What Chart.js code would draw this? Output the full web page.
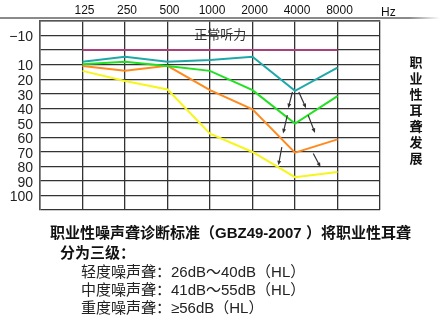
<!DOCTYPE html>
<html>
<head>
<meta charset="utf-8">
<script src="https://cdn.jsdelivr.net/npm/chart.js@4.4.0/dist/chart.umd.min.js"></script>
<style>
  html, body { margin: 0; padding: 0; background: #fff; }
  #wrap { position: relative; width: 440px; height: 334px; overflow: hidden; }
  #chart-box { position: absolute; left: 0; top: 0; width: 440px; height: 334px; }
  .txt { position: absolute; white-space: nowrap; font-family: "Liberation Sans", "Noto Sans CJK SC", sans-serif; color: #111; }
  #hz-line { position: absolute; left: 0; top: 17px; width: 440px; height: 1.5px;
             background: linear-gradient(to right, #8a8a8a 0%, #8a8a8a 93%, rgba(138,138,138,0) 100%); }
  #hz { left: 381px; top: 4px; font-size: 12px; line-height: 16px; }
  #side { left: 409px; top: 54px; width: 14px; font-size: 13px; line-height: 16px; font-weight: bold;
          white-space: normal; text-align: center; font-family: "Noto Sans CJK SC", sans-serif; color: #111; }
  .note { font-size: 15px; line-height: 18px; }
</style>
</head>
<body>
<div id="wrap">
  <div id="chart-box"><canvas id="audiogram"></canvas></div>
  <div id="hz-line"></div>
  <div class="txt" id="hz">Hz</div>
  <div class="txt" id="side">职<br>业<br>性<br>耳<br>聋<br>发<br>展</div>
  <div class="txt note" style="left:50px; top:224px; font-weight:bold;">职业性噪声聋诊断标准（GBZ49-2007 ）将职业性耳聋</div>
  <div class="txt note" style="left:60px; top:244px; font-weight:bold;">分为三级：</div>
  <div class="txt note" style="left:81px; top:263px; color:#222;">轻度噪声聋：26dB～40dB（HL）</div>
  <div class="txt note" style="left:81px; top:281px; color:#222;">中度噪声聋：41dB～55dB（HL）</div>
  <div class="txt note" style="left:81px; top:299px; color:#222;">重度噪声聋：≥56dB（HL）</div>
</div>
<script>
// frequencies (Hz) along the top
const freqLabels = ["125", "250", "500", "1000", "2000", "4000", "8000"];

// hearing levels (dB HL), one per frequency
const normalHearing = [0, 0, 0, 0, 0, 0, 0];
const stageTeal = [8, 4.6, 8, 6.9, 4.6, 28, 12];
const stageGreen = [9.7, 8, 11, 14.3, 27.6, 50.5, 31.7];
const stageOrange = [11, 14.3, 10.8, 27.6, 40.7, 70.6, 61.4];
const stageYellow = [14.3, 21.2, 27.1, 57.5, 70.1, 87.4, 83.9];

// y tick labels that are shown
const yTickLabels = [-10, 10, 20, 30, 40, 50, 60, 70, 80, 90, 100];

// progression arrows (x = frequency slot, y = dB)
const arrowFromX = [5.94, 6.09, 5.82, 6.31, 5.69, 6.43];
const arrowFromY = [28.8, 28.8, 44.8, 44.8, 66.7, 71.2];
const arrowToX = [5.84, 6.26, 5.72, 6.47, 5.61, 6.60];
const arrowToY = [40.0, 40.0, 57.4, 57.0, 79.3, 80.5];

const normalLabel = "正常听力";

function toPoints(values) {
    return values.map((v, i) => ({ x: i + 1, y: v }));
}

function makeSet(values, color) {
    return {
        data: toPoints(values),
        borderColor: color,
        borderWidth: 2,
        pointRadius: 0,
        tension: 0,
        fill: false
    };
}

// draws the arrows and the "normal hearing" label
const annotations = {
    id: "annotations",
    afterDatasetsDraw(chart) {
        const ctx = chart.ctx;
        const xs = chart.scales.x;
        const ys = chart.scales.y;
        ctx.save();
        ctx.strokeStyle = "#333";
        ctx.fillStyle = "#333";
        ctx.lineWidth = 1.2;
        for (let i = 0; i < arrowFromX.length; i++) {
            const x1 = xs.getPixelForValue(arrowFromX[i]);
            const y1 = ys.getPixelForValue(arrowFromY[i]);
            const x2 = xs.getPixelForValue(arrowToX[i]);
            const y2 = ys.getPixelForValue(arrowToY[i]);
            const ang = Math.atan2(y2 - y1, x2 - x1);
            ctx.beginPath();
            ctx.moveTo(x1, y1);
            ctx.lineTo(x2 - 3 * Math.cos(ang), y2 - 3 * Math.sin(ang));
            ctx.stroke();
            ctx.beginPath();
            ctx.moveTo(x2, y2);
            ctx.lineTo(x2 - 5 * Math.cos(ang - 0.4), y2 - 5 * Math.sin(ang - 0.4));
            ctx.lineTo(x2 - 5 * Math.cos(ang + 0.4), y2 - 5 * Math.sin(ang + 0.4));
            ctx.closePath();
            ctx.fill();
        }
        ctx.font = "13px 'Noto Sans CJK SC'";
        ctx.fillStyle = "#333";
        ctx.textAlign = "center";
        ctx.textBaseline = "middle";
        ctx.fillText(normalLabel, xs.getPixelForValue(4.24), ys.getPixelForValue(-11));
        ctx.restore();
    }
};

new Chart(document.getElementById("audiogram"), {
    type: "line",
    data: {
        datasets: [
            makeSet(normalHearing, "#a8407a"),
            makeSet(stageTeal, "#20a8a8"),
            makeSet(stageGreen, "#22e022"),
            makeSet(stageOrange, "#ff8a1e"),
            makeSet(stageYellow, "#f6f51c")
        ]
    },
    options: {
        responsive: true,
        maintainAspectRatio: false,
        animation: false,
        layout: { padding: { left: 0, right: 60, top: 0, bottom: 124 } },
        plugins: {
            legend: { display: false },
            tooltip: { enabled: false }
        },
        scales: {
            x: {
                type: "linear",
                position: "top",
                min: 0,
                max: 8,
                afterFit(scale) { scale.height = 21; },
                ticks: {
                    stepSize: 1,
                    padding: 3,
                    labelOffset: 2,
                    maxRotation: 0,
                    autoSkip: false,
                    color: "#111",
                    font: { family: "Liberation Sans", size: 12 },
                    callback: v => freqLabels[v - 1] || ""
                },
                grid: { color: "#333", lineWidth: 1.3, drawTicks: false },
                border: { color: "#555", width: 1.5 }
            },
            y: {
                type: "linear",
                reverse: true,
                min: -20,
                max: 110,
                afterFit(scale) { scale.width = 40; },
                ticks: {
                    stepSize: 10,
                    padding: 7,
                    labelOffset: 2,
                    autoSkip: false,
                    color: "#222",
                    font: { family: "Liberation Sans", size: 14 },
                    callback: v => yTickLabels.includes(v) ? (v < 0 ? "\u2212" + Math.abs(v) : String(v)) : ""
                },
                grid: { color: "#333", lineWidth: 1.3, drawTicks: false },
                border: { color: "#555", width: 1.5 }
            }
        }
    },
    plugins: [annotations]
});
</script>
</body>
</html>
